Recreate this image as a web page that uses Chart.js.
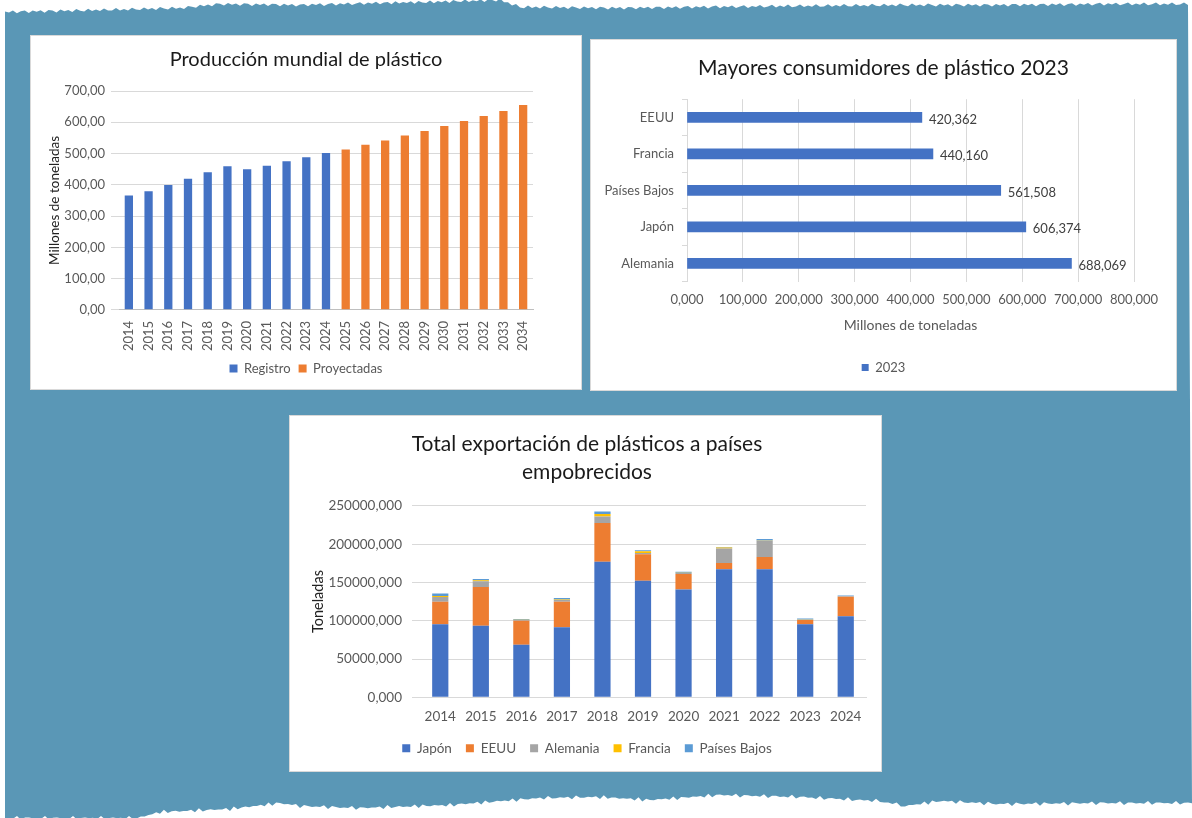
<!DOCTYPE html>
<html lang="es">
<head>
<meta charset="utf-8">
<title>Plásticos</title>
<script src="https://cdn.jsdelivr.net/npm/chart.js@4.4.1/dist/chart.umd.min.js"></script>
<style>
    html, body { margin: 0; padding: 0; background: #fff; }
    body { width: 1192px; height: 818px; position: relative; overflow: hidden; font-family: Lato, sans-serif; }
    #fondo { position: absolute; left: 0; top: 0; width: 1192px; height: 818px; background: #5a97b6; }
    .panel { position: absolute; background: #fff; border: 1px solid #d9d9d9; }
    .panel canvas { display: block; }
    #panel1 { left: 30px; top: 35px; width: 550px; height: 353px; }
    #panel2 { left: 590px; top: 39px; width: 585px; height: 350px; }
    #panel3 { left: 289px; top: 415px; width: 591px; height: 355px; }
</style>
</head>
<body>
<div id="fondo"></div>
<div class="panel" id="panel1"><canvas id="produccionChart" width="550" height="353"></canvas></div>
<div class="panel" id="panel2"><canvas id="consumidoresChart" width="585" height="350"></canvas></div>
<div class="panel" id="panel3"><canvas id="exportacionChart" width="591" height="355"></canvas></div>

<script>
// Producción mundial (millones de toneladas)
const aniosProduccion = ['2014', '2015', '2016', '2017', '2018', '2019', '2020', '2021', '2022', '2023', '2024',
    '2025', '2026', '2027', '2028', '2029', '2030', '2031', '2032', '2033', '2034'];
const registro = [366, 379, 399, 419, 440, 459, 450, 461, 475, 488, 502];
const proyectadas = [513, 528, 542, 558, 572, 588, 604, 620, 636, 655];

// Mayores consumidores 2023
const paises = ['EEUU', 'Francia', 'Países Bajos', 'Japón', 'Alemania'];
const consumo2023 = [420.362, 440.160, 561.508, 606.374, 688.069];

// Exportación a países empobrecidos
const aniosExportacion = ['2014', '2015', '2016', '2017', '2018', '2019', '2020', '2021', '2022', '2023', '2024'];
const japon = [95500, 93400, 68500, 91600, 177100, 152300, 140900, 167100, 167100, 95500, 106000];
const eeuu = [29300, 50600, 31400, 33200, 50600, 34400, 20100, 8300, 16100, 5300, 25300];
const alemania = [6100, 7400, 1000, 2200, 8300, 1800, 1300, 18800, 21400, 500, 500];
const francia = [1300, 1300, 500, 800, 3500, 2200, 300, 1300, 300, 200, 200];
const paisesBajos = [3500, 1800, 1000, 1800, 3100, 1300, 1400, 800, 1800, 1500, 1000];

const FUENTE = 'Lato, "Open Sans", sans-serif';
const GRIS_TEXTO = '#595959';
const GRIS_REJILLA = '#d9d9d9';

Chart.defaults.font.family = FUENTE;
Chart.defaults.color = GRIS_TEXTO;
Chart.defaults.animation = false;

function coma(valor, decimales) {
    return valor.toFixed(decimales).replace('.', ',');
}

// eje vacío a la derecha: deja el hueco sin descentrar título y leyenda
function ejeHueco(ancho) {
    return {
        position: 'right',
        display: true,
        grid: { display: false },
        border: { display: false },
        ticks: { display: false },
        afterFit: (escala) => { escala.width = ancho; }
    };
}

// borde rasgado del fondo (solo decoración)
function dibujarFondo() {
    const arriba = [[5, 12], [100, 10], [180, 8], [220, 4], [300, 5], [380, 3], [430, 2], [500, 0], [520, 7], [620, 8], [700, 7], [800, 6], [900, 5], [1000, 5], [1100, 4], [1192, 4]];
    const abajo = [[1192, 803], [1100, 803], [1000, 804], [940, 801], [905, 806], [880, 801], [800, 797], [720, 795], [650, 800], [600, 797], [540, 798], [450, 805], [360, 808], [300, 806], [280, 803], [230, 809], [160, 812], [137, 818], [5, 818]];
    const puntos = [];
    function tramo(lista, fase) {
        for (let i = 0; i < lista.length - 1; i++) {
            const [x0, y0] = lista[i];
            const [x1, y1] = lista[i + 1];
            const pasos = Math.max(1, Math.round(Math.abs(x1 - x0) / 4));
            for (let k = 0; k < pasos; k++) {
                const x = x0 + (x1 - x0) * k / pasos;
                const y = y0 + (y1 - y0) * k / pasos + 1.3 * Math.sin(x * 0.9 + fase) + 0.8 * Math.sin(x * 2.7 + fase);
                puntos.push(x.toFixed(1) + 'px ' + y.toFixed(1) + 'px');
            }
        }
    }
    tramo(arriba, 0);
    tramo(abajo, 2);
    puntos.push('5px 818px');
    document.getElementById('fondo').style.clipPath = 'polygon(' + puntos.join(',') + ')';
}

function gerarGraficoProduccion() {
    const ctx = document.getElementById('produccionChart').getContext('2d');
    const datosRegistro = registro.concat(proyectadas.map(() => null));
    const datosProyectadas = registro.map(() => null).concat(proyectadas);

    new Chart(ctx, {
        type: 'bar',
        data: {
            labels: aniosProduccion,
            datasets: [{
                label: 'Registro',
                data: datosRegistro,
                backgroundColor: '#4472c4'
            }, {
                label: 'Proyectadas',
                data: datosProyectadas,
                backgroundColor: '#ed7d31'
            }]
        },
        options: {
            responsive: false,
            categoryPercentage: 1,
            barPercentage: 0.42,
            layout: { padding: { left: 14, right: 14, top: 4, bottom: 4 } },
            plugins: {
                title: {
                    display: true,
                    text: 'Producción mundial de plástico',
                    color: '#1a1a1a',
                    font: { size: 20, weight: 'normal' },
                    padding: { top: 8, bottom: 19 }
                },
                legend: {
                    position: 'bottom',
                    labels: { boxWidth: 8, boxHeight: 8, font: { size: 13 }, color: GRIS_TEXTO, padding: 8 }
                },
                tooltip: { enabled: false }
            },
            scales: {
                x: {
                    stacked: true,
                    grid: { display: false },
                    border: { color: '#bfbfbf' },
                    ticks: { autoSkip: false, minRotation: 90, maxRotation: 90, font: { size: 13 }, color: GRIS_TEXTO, padding: 3 }
                },
                y: {
                    stacked: true,
                    min: 0,
                    max: 700,
                    afterFit: (escala) => { escala.width = 74; },
                    grid: { color: GRIS_REJILLA },
                    border: { display: false },
                    ticks: { stepSize: 100, font: { size: 13 }, color: GRIS_TEXTO, padding: 6, callback: (v) => coma(v, 2) },
                    title: { display: true, text: 'Millones de toneladas', color: '#222', font: { size: 13.5 }, padding: 2 }
                },
                hueco: ejeHueco(34)
            }
        }
    });
}

// etiquetas de valor al final de cada barra
const etiquetasValor = {
    id: 'etiquetasValor',
    afterDatasetsDraw(chart) {
        const ctx = chart.ctx;
        const meta = chart.getDatasetMeta(0);
        ctx.save();
        ctx.font = '13px ' + FUENTE;
        ctx.fillStyle = '#404040';
        ctx.textBaseline = 'middle';
        meta.data.forEach((barra, i) => {
            ctx.fillText(coma(chart.data.datasets[0].data[i], 3), barra.x + 7, barra.y + 2);
        });
        ctx.restore();
    }
};

function gerarGraficoConsumidores() {
    const ctx = document.getElementById('consumidoresChart').getContext('2d');
    new Chart(ctx, {
        type: 'bar',
        data: {
            labels: paises,
            datasets: [{
                label: '2023',
                data: consumo2023,
                backgroundColor: '#4472c4',
                barThickness: 10
            }]
        },
        plugins: [etiquetasValor],
        options: {
            indexAxis: 'y',
            responsive: false,
            layout: { padding: { left: 6, right: 6, top: 4, bottom: 6 } },
            plugins: {
                title: {
                    display: true,
                    text: 'Mayores consumidores de plástico 2023',
                    color: '#1a1a1a',
                    font: { size: 21, weight: 'normal' },
                    padding: { top: 12, bottom: 18 }
                },
                legend: {
                    position: 'bottom',
                    labels: { boxWidth: 7, boxHeight: 7, font: { size: 13 }, color: GRIS_TEXTO, padding: 11 }
                },
                tooltip: { enabled: false }
            },
            scales: {
                x: {
                    min: 0,
                    max: 800,
                    grid: { color: GRIS_REJILLA, tickLength: 0 },
                    border: { display: false },
                    ticks: { stepSize: 100, font: { size: 13 }, color: GRIS_TEXTO, padding: 10, callback: (v) => coma(v, 3) },
                    title: { display: true, text: 'Millones de toneladas', color: GRIS_TEXTO, font: { size: 14 }, padding: { top: 0, bottom: 16 } }
                },
                y: {
                    afterFit: (escala) => { escala.width = 90; },
                    grid: { offset: true, drawOnChartArea: false, color: GRIS_REJILLA, tickLength: 5 },
                    border: { color: GRIS_REJILLA },
                    ticks: { font: { size: 13 }, color: GRIS_TEXTO, padding: 8 }
                },
                hueco: ejeHueco(36)
            }
        }
    });
}

function gerarGraficoExportacion() {
    const ctx = document.getElementById('exportacionChart').getContext('2d');
    const series = [
        ['Japón', japon, '#4472c4'],
        ['EEUU', eeuu, '#ed7d31'],
        ['Alemania', alemania, '#a5a5a5'],
        ['Francia', francia, '#ffc000'],
        ['Países Bajos', paisesBajos, '#5b9bd5']
    ];
    new Chart(ctx, {
        type: 'bar',
        data: {
            labels: aniosExportacion,
            datasets: series.map(([nombre, datos, color]) => ({
                label: nombre,
                data: datos,
                backgroundColor: color
            }))
        },
        options: {
            responsive: false,
            categoryPercentage: 1,
            barPercentage: 0.4,
            layout: { padding: { left: 18, right: 15, top: 6, bottom: 6 } },
            plugins: {
                title: {
                    display: true,
                    text: ['Total exportación de plásticos a países', 'empobrecidos'],
                    color: '#1a1a1a',
                    font: { size: 21, weight: 'normal', lineHeight: 1.33 },
                    padding: { top: 8, bottom: 20 }
                },
                legend: {
                    position: 'bottom',
                    labels: { boxWidth: 8, boxHeight: 8, font: { size: 13.5 }, color: GRIS_TEXTO, padding: 14 }
                },
                tooltip: { enabled: false }
            },
            scales: {
                x: {
                    stacked: true,
                    grid: { display: false },
                    border: { color: GRIS_REJILLA },
                    ticks: { font: { size: 13.5 }, color: GRIS_TEXTO, padding: 3 }
                },
                y: {
                    stacked: true,
                    min: 0,
                    max: 250000,
                    afterFit: (escala) => { escala.width = 112; },
                    grid: { color: GRIS_REJILLA },
                    border: { display: false },
                    ticks: { stepSize: 50000, font: { size: 13.5 }, color: GRIS_TEXTO, padding: 10, callback: (v) => coma(v, 3) },
                    title: { display: true, text: 'Toneladas', color: '#222', font: { size: 14.5 }, padding: 2 }
                }
            }
        }
    });
}

dibujarFondo();
gerarGraficoProduccion();
gerarGraficoConsumidores();
gerarGraficoExportacion();
</script>
</body>
</html>
